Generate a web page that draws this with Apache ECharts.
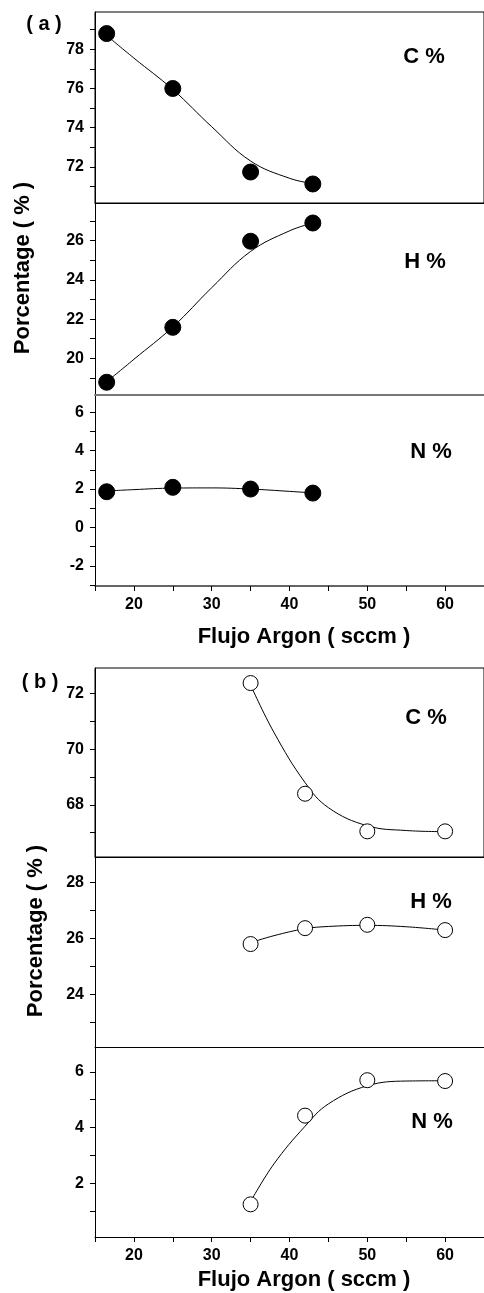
<!DOCTYPE html>
<html>
<head>
    <meta charset="UTF-8">
    <title>Porcentage vs Flujo Argon</title>
    <script src="https://cdn.jsdelivr.net/npm/echarts@6/dist/echarts.min.js"></script>
    <style>
        body { margin: 0; background: #fff; }
    </style>
</head>
<body>
    <div id="chart" style="width:484px; height:1293px;"></div>

    <script>
        // ---- data ----
        // panel (a): filled markers
        var flowA = [16.5, 25, 35, 43];
        var carbonA = [78.8, 76.0, 71.74, 71.13];
        var hydrogenA = [18.78, 21.58, 25.97, 26.9];
        var nitrogenA = [1.86, 2.09, 2.0, 1.79];

        // panel (b): open markers
        var flowB = [35, 42, 50, 60];
        var carbonB = [72.37, 68.4, 67.05, 67.05];
        var hydrogenB = [25.8, 26.37, 26.49, 26.3];
        var nitrogenB = [1.25, 4.43, 5.7, 5.67];

        // fitted curves, values
        var fitFlowA = [16.5, 20, 25, 30, 35, 40, 43];
        var fitCarbonA = [78.7, 77.55, 75.95, 74.05, 72.3, 71.42, 71.15];
        var fitHydrogenA = [18.8, 19.95, 21.6, 23.6, 25.45, 26.5, 26.9];
        var fitNitrogenA = [1.9, 1.97, 2.05, 2.06, 2.0, 1.88, 1.8];

        var fitFlowB = [35, 38, 42, 45, 50, 55, 60];
        var fitCarbonB = [72.3, 70.6, 68.8, 67.9, 67.25, 67.08, 67.04];
        var fitHydrogenB = [25.85, 26.1, 26.35, 26.43, 26.47, 26.42, 26.3];
        var fitNitrogenB = [1.35, 2.7, 4.05, 4.85, 5.5, 5.67, 5.68];

        // ---- tick labels ----
        var xLabels = [20, 30, 40, 50, 60];
        var yLabelsCA = [72, 74, 76, 78];
        var yTicksCA = [71, 72, 73, 74, 75, 76, 77, 78, 79];
        var yLabelsHA = [20, 22, 24, 26];
        var yTicksHA = [19, 20, 21, 22, 23, 24, 25, 26, 27];
        var yLabelsNA = [-2, 0, 2, 4, 6];
        var yTicksNA = [-3, -2, -1, 0, 1, 2, 3, 4, 5, 6];
        var yLabelsCB = [68, 70, 72];
        var yTicksCB = [67, 68, 69, 70, 71, 72];
        var yLabelsHB = [24, 26, 28];
        var yTicksHB = [23, 24, 25, 26, 27, 28];
        var yLabelsNB = [2, 4, 6];
        var yTicksNB = [1, 2, 3, 4, 5, 6];

        var FONT = "'Liberation Sans', Arial, sans-serif";

        function pairs(xs, ys) {
            return xs.map(function (x, i) { return [x, ys[i]]; });
        }

        // one entry per stacked sub plot
        var plots = [
            { top: 12,   height: 191, min: 70.16, max: 79.9,  ticks: yTicksCA, labels: yLabelsCA, x: flowA, y: carbonA,   fx: fitFlowA, fy: fitCarbonA,   open: false, first: true },
            { top: 203,  height: 192, min: 18.13, max: 27.92, ticks: yTicksHA, labels: yLabelsHA, x: flowA, y: hydrogenA, fx: fitFlowA, fy: fitHydrogenA, open: false, lineColor: '#777', lineWidth: 2 },
            { top: 395,  height: 191, min: -3.05, max: 6.9,   ticks: yTicksNA, labels: yLabelsNA, x: flowA, y: nitrogenA, fx: fitFlowA, fy: fitNitrogenA, open: false, last: true, lineColor: '#333', lineWidth: 1.5 },
            { top: 668,  height: 189, min: 66.13, max: 72.91, ticks: yTicksCB, labels: yLabelsCB, x: flowB, y: carbonB,   fx: fitFlowB, fy: fitCarbonB,   open: true, first: true },
            { top: 857,  height: 190, min: 22.11, max: 28.92, ticks: yTicksHB, labels: yLabelsHB, x: flowB, y: hydrogenB, fx: fitFlowB, fy: fitHydrogenB, open: true },
            { top: 1047, height: 190, min: 0.08,  max: 6.89,  ticks: yTicksNB, labels: yLabelsNB, x: flowB, y: nitrogenB, fx: fitFlowB, fy: fitNitrogenB, open: true, last: true }
        ];

        var grids = [], xAxes = [], yAxes = [], series = [];

        plots.forEach(function (p, i) {
            grids.push({
                left: 95, right: -1, top: p.top, height: p.height,
                show: !!p.first, borderColor: '#000', borderWidth: 1,
                backgroundColor: 'transparent'
            });
            xAxes.push({
                type: 'value', gridIndex: i, min: 15, max: 65, interval: 5,
                axisLine: { show: true, onZero: false, lineStyle: { color: p.lineColor || '#000', width: p.lineWidth || 1 } },
                axisTick: { show: !!p.last, length: 5, lineStyle: { color: '#000' } },
                axisLabel: {
                    show: !!p.last, customValues: xLabels, margin: 11,
                    color: '#000', fontFamily: FONT, fontWeight: 'bold', fontSize: 16
                },
                splitLine: { show: false }
            });
            yAxes.push({
                type: 'value', gridIndex: i, min: p.min, max: p.max,
                axisLine: { show: true, lineStyle: { color: '#000', width: 1 } },
                axisTick: { show: true, length: 5, customValues: p.ticks, lineStyle: { color: '#000' } },
                axisLabel: {
                    customValues: p.labels, margin: 11,
                    color: '#000', fontFamily: FONT, fontWeight: 'bold', fontSize: 16
                },
                splitLine: { show: false }
            });
            series.push({
                type: 'line', xAxisIndex: i, yAxisIndex: i,
                data: pairs(p.fx, p.fy), smooth: 0.4, showSymbol: false,
                lineStyle: { color: '#000', width: 1 }, z: 2, silent: true
            });
            series.push({
                type: 'scatter', xAxisIndex: i, yAxisIndex: i,
                data: pairs(p.x, p.y), symbol: 'circle',
                symbolSize: p.open ? 15 : 16,
                itemStyle: p.open
                    ? { color: '#fff', borderColor: '#000', borderWidth: 1, opacity: 1 }
                    : { color: '#000', borderColor: '#000', borderWidth: 1, opacity: 1 },
                z: 3
            });
        });

        function label(text, x, y, size, rot) {
            return {
                type: 'text', x: x, y: y, rotation: rot || 0, silent: true,
                style: {
                    text: text, fill: '#000', align: 'center', verticalAlign: 'middle',
                    font: 'bold ' + size + 'px ' + FONT
                }
            };
        }

        var chart = echarts.init(document.getElementById('chart'), null, { renderer: 'canvas' });
        chart.setOption({
            animation: false,
            backgroundColor: '#fff',
            grid: grids,
            xAxis: xAxes,
            yAxis: yAxes,
            series: series,
            graphic: [
                label('( a )', 44, 24, 20),
                label('( b )', 40, 682, 20),
                label('C %', 424, 57, 22),
                label('H %', 425, 262, 22),
                label('N %', 431, 452, 22),
                label('C %', 426, 718, 22),
                label('H %', 431, 902, 22),
                label('N %', 432, 1122, 22),
                label('Porcentage ( % )', 23, 268, 22, Math.PI / 2),
                label('Porcentage ( % )', 36, 931, 22, Math.PI / 2),
                label('Flujo Argon ( sccm )', 304, 637, 22),
                label('Flujo Argon ( sccm )', 304, 1280, 22)
            ]
        });
    </script>
</body>
</html>
